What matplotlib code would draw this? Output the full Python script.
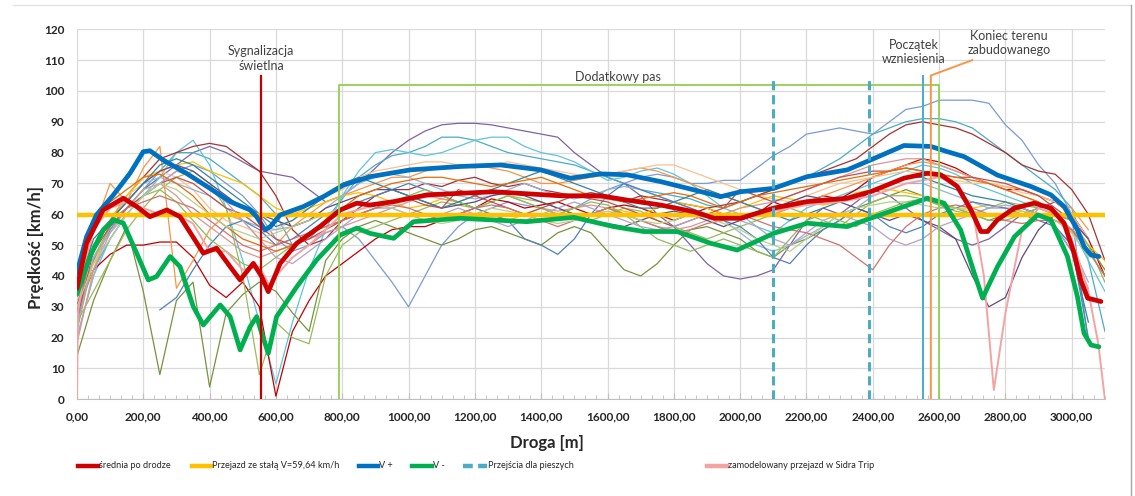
import numpy as np
import matplotlib
matplotlib.use('Agg')
import matplotlib.pyplot as plt
from matplotlib.lines import Line2D
from matplotlib.ticker import MultipleLocator, FuncFormatter

plt.rcParams['font.family'] = ['Lato', 'DejaVu Sans']
nan = np.nan

#%% single runs, sampled every 50 m (0 ... 3100 m)
dist = list(range(0, 3101, 50))

run01 = [25,45,55,62,68,72,76,80,82,80, 77,74,73,72,68,64,66,70,75,80, 84,87,89,89.5,89.5,89,88,87,86,85,
         80,76,72,70,66,60,56,50,44,40, 39,40,42,50,58,62,60,64,68,66, 62,58,55,52,50,52,56,60,62,64, 60,52,nan]
run02 = [28,42,52,60,66,70,74,76,74,70, 66,60,52,48,50,54,56,52,45,38, 30,40,50,56,60,62,64,63,62,60,
         62,65,68,70,72,73,72,70,70,71, 71,75,79,82,86,87,88,87,86,90, 94,95,97,97,97,96,89,84,76,70, 60,18,nan]
run03 = [30,45,55,62,68,74,80,80,78,74, 70,66,60,50,52,58,65,72,76,79, 80,82,85,85,84,82,80,79,78,77,
         76,74,72,70,68,67,66,65,63,62, 64,66,68,70,72,75,78,82,86,88, 90,91,91,90,88,84,80,76,72,68, 62,45,22]
run04 = [20,40,52,60,66,72,80,84,76,62, 45,25,5,25,42,55,66,74,80,81, 80,79,80,82,84,85,85,82,80,79,
         77,74,71,72,74,75,73,70,66,62, 60,56,54,58,62,64,66,68,70,72, 74,76,75,73,70,68,66,64,62,60, 55,45,35]
run05 = [35,48,58,66,72,78,80,82,83,82, 78,74,66,55,50,52,58,62,66,68, 68,70,69,71,72,70,69,70,68,67,
         66,67,66,64,66,65,64,63,62,63, 64,66,68,70,72,74,76,78,82,86, 89,90,89,88,86,83,80,76,74,73, 68,60,45]
run06 = [30,42,47,50,50,51,51,46,37,33, 38,30,1,22,32,40,44,48,52,55, 56,56,58,60,62,65,64,62,63,64,
         62,60,62,63,62,60,58,60,62,60, 58,60,64,62,64,66,65,68,72,74, 76,78,77,75,72,70,68,68,66,64, 60,52,40]
run07 = [14,32,45,56,35,8,32,38,4,28, 34,38,35,28,22,45,52,56,58,56, 54,52,50,52,55,56,54,52,50,54,
         56,54,48,42,40,44,50,55,56,54, 52,48,46,50,52,55,58,62,64,66, 68,66,64,62,60,58,60,62,60,58, 55,50,42]
run08 = [25,35,45,55,62,68,72,74,70,62, 40,8,25,20,18,40,50,54,56,58, 60,62,64,63,62,64,66,65,64,62,
         60,58,60,62,61,58,56,54,52,54, 56,58,60,62,60,58,56,60,64,66, 66,65,63,61,60,62,64,63,62,60, 55,48,40]
run09 = [28,55,70,64,75,82,36,45,55,60, 58,52,50,56,60,64,66,68,70,72, 72,74,75,76,76,75,74,72,70,70,
         71,72,73,74,75,74,72,70,68,66, 64,62,60,62,64,66,68,70,72,74, 76,77,76,74,72,70,69,68,66,64, 62,55,nan]
run10 = [32,44,56,66,70,74,72,68,62,58, 56,54,55,58,62,66,68,72,74,75, 76,77,77,76,75,76,77,76,75,74,
         73,72,73,74,75,76,76,74,72,70, 68,66,65,64,66,68,70,71,72,73, 74,73,72,71,70,70,69,67,66,64, 60,52,nan]
run11 = [30,42,58,66,72,74,76,77,74,72, 70,66,62,60,62,64,66,67,66,64, 62,63,65,64,62,60,58,60,62,60,
         58,60,62,61,60,62,64,63,62,60, 62,64,66,65,64,63,64,67,68,68, 67,66,64,62,62,63,62,61,60,58, 55,50,45]
run12 = [20,40,58,64,70,72,70,68,66,62, 58,56,55,56,58,62,66,70,72,73, 72,70,68,66,65,66,68,70,68,66,
         65,66,68,69,68,66,64,62,60,58, 54,50,48,50,53,56,60,62,66,68, 70,70,68,66,64,62,62,62,60,56, 50,38,nan]
run13 = [nan,nan,nan,nan,nan,29,33,42,50,56, 58,55,50,52,56,60,62,64,66,68, 70,68,66,64,62,60,58,52,50,47,
         52,60,66,70,68,66,64,62,60,58, 56,52,46,44,50,55,58,62,60,56, 54,56,60,62,64,63,62,60,58,56, 50,20,nan]
run14 = [18,42,54,62,68,70,66,60,56,52, 48,46,48,50,52,54,56,58,60,62, 64,66,65,64,66,68,66,64,62,61,
         62,63,62,60,58,56,55,56,58,60, 62,63,64,66,68,70,72,74,76,77, 78,78,76,74,72,70,68,66,64,60, 55,48,nan]
run15 = [30,50,58,64,70,74,76,74,70,66, 62,60,58,56,58,62,64,66,68,68, 66,64,62,63,64,66,67,66,64,62,
         60,58,57,56,58,60,61,60,58,56, 58,60,62,64,66,65,64,62,60,58, 60,58,56,52,40,30,33,46,55,60, 58,52,nan]
run16 = [22,46,56,62,66,68,64,58,52,48, 44,42,46,50,54,56,58,60,62,64, 66,68,66,64,62,64,66,64,62,60,
         62,64,63,60,56,52,50,48,50,52, 50,48,46,52,58,60,58,56,60,62, 64,65,63,62,60,58,58,60,62,60, 58,50,38]
run17 = [35,52,58,64,70,76,78,76,72,68, 64,60,56,58,62,66,70,72,70,68, 66,64,62,64,66,68,70,72,74,72,
         70,68,66,64,62,62,64,66,68,66, 64,62,60,58,60,62,64,66,68,70, 72,72,70,68,66,65,64,62,60,56, 48,25,nan]
run18 = [26,48,56,62,66,70,72,70,66,62, 60,56,52,50,52,55,58,60,62,64, 65,63,62,68,66,64,62,60,62,64,
         66,65,64,62,60,58,56,58,60,62, 68,66,64,66,68,70,72,73,74,74, 75,74,73,72,72,71,70,68,66,62, 58,48,nan]
run19 = [24,46,54,60,66,70,74,72,68,64, 58,52,46,44,48,52,56,60,62,62, 60,58,60,62,60,58,56,58,60,62,
         64,62,60,58,56,55,56,58,60,60, 58,56,52,50,54,58,60,58,56,52, 50,52,56,58,60,62,63,62,60,56, 48,36,nan]
run20 = [36,58,64,68,72,73,70,66,60,56, 52,50,48,50,54,58,62,66,68,70, 71,72,72,71,70,69,70,71,72,70,
         68,66,65,64,65,66,67,66,64,62, 64,66,67,68,69,70,71,72,73,74, 75,74,73,72,71,70,68,66,64,60, 54,nan,nan]
run21 = [28,50,58,62,64,66,64,62,58,54, 50,48,50,52,54,56,58,60,62,63, 62,60,58,60,62,63,62,60,58,56,
         58,60,62,60,58,56,54,55,57,58, 60,58,56,55,54,52,50,46,42,50, 56,60,62,63,62,60,58,57,58,58, 55,48,40]
run22 = [30,44,52,60,66,70,68,64,60,56, 54,52,54,56,58,60,62,64,63,62, 60,58,57,58,60,62,61,60,58,57,
         58,60,61,60,58,57,58,60,59,57, 55,52,50,48,52,56,60,62,63,64, 64,63,62,62,61,60,60,61,60,58, 54,46,nan]

runs = [run01, run02, run03, run04, run05, run06, run07, run08, run09, run10, run11,
        run12, run13, run14, run15, run16, run17, run18, run19, run20, run21, run22]
run_colors = ['#7F62A4', '#7A9BD2', '#4BACC6', '#5EC4DC', '#A5322F', '#C00000', '#77933C',
              '#9BBB59', '#F79646', '#FAC08F', '#FFC000', '#95B3D7', '#4F81BD', '#D99694',
              '#604A7B', '#8FBC5A', '#31859C', '#C0504D', '#B3A2C7', '#E46C0A', '#CD7371', '#B8CF8A']

#%% characteristic curves
mean_x = [0, 29, 79, 140, 180, 220, 271, 311, 381, 421, 462, 492, 532, 557, 577, 613, 663, 733, 794, 844,
          884, 955, 1056, 1257, 1458, 1579, 1659, 1760, 1861, 1922, 2001, 2101, 2202, 2323, 2393, 2494,
          2565, 2605, 2655, 2696, 2726, 2746, 2776, 2827, 2887, 2937, 2977, 3007, 3027, 3048, 3088]
mean_v = [36, 50.6, 61.4, 65.2, 62.5, 59.2, 61.4, 59.2, 47.4, 49, 43, 38.7, 44.1, 39.8, 34.9, 44.1, 50.6,
          56, 61.4, 63.6, 63, 64.1, 66.3, 67.3, 66, 66, 64.6, 63, 60.8, 58.7, 58.7, 62, 64.1, 65.2, 67.3,
          71.7, 73.3, 72.8, 69, 61.4, 54.4, 54.4, 58.2, 62, 63.6, 62, 57.1, 47.4, 38.7, 32.8, 31.7]

vplus_x = [0, 29, 59, 110, 160, 200, 220, 260, 330, 401, 462, 522, 542, 567, 583, 613, 683, 743, 804, 884,
           1005, 1156, 1277, 1398, 1488, 1579, 1659, 1760, 1861, 1941, 2001, 2101, 2202, 2323, 2393, 2494,
           2575, 2625, 2675, 2776, 2877, 2937, 2977, 3017, 3037, 3058, 3082]
vplus_v = [41, 52.7, 59.8, 66.3, 73.3, 80.3, 80.6, 77.6, 73.3, 68.4, 64.1, 61.4, 59.2, 54.9, 56, 59.8,
           62.5, 65.7, 69.5, 72.2, 74.4, 75.5, 76, 74.4, 71.7, 73.1, 72.8, 70.6, 67.9, 65.7, 67.3, 68.4,
           72.2, 74.4, 77.6, 82.3, 82, 80.3, 78.7, 72.7, 69, 66.3, 62.5, 55, 49.5, 46.8, 46.3]

vminus_x = [0, 39, 79, 110, 140, 180, 215, 240, 281, 311, 351, 381, 432, 462, 492, 522, 542, 557, 577, 602,
            663, 723, 794, 844, 884, 955, 1015, 1156, 1357, 1498, 1619, 1709, 1810, 1911, 1991, 2101, 2202,
            2323, 2393, 2494, 2565, 2615, 2665, 2706, 2731, 2776, 2827, 2897, 2937, 2987, 3017, 3037, 3058, 3082]
vminus_v = [34, 46.3, 54.9, 58.2, 57.1, 47.4, 38.7, 39.8, 46.3, 43, 30, 24.1, 30.6, 26.8, 16, 23.5, 26.8,
            21.4, 14.9, 26.8, 36.5, 45.2, 53.3, 55.5, 53.8, 52.2, 57.6, 58.7, 57.6, 59, 56, 54.4, 54.4, 50.6,
            48.4, 53.8, 57.1, 56, 58.7, 62.5, 65.2, 63.6, 54.9, 40.9, 32.8, 43, 52.7, 59.8, 58.2, 46.3, 33.3,
            21.4, 17.6, 17]

sidra_x = [0, 3, 25, 50, 100, 150, 200, 250, 300, 350, 400, 450, 500, 550, 580, 600, 650, 700, 750, 800,
           900, 1000, 1100, 1200, 1300, 1400, 1500, 1600, 1700, 1800, 1900, 2000, 2100, 2200, 2300, 2400,
           2500, 2600, 2650, 2700, 2735, 2765, 2800, 2850, 2900, 2950, 3000, 3050, 3080, 3100]
sidra_v = [0, 28, 45, 55, 62, 64, 62, 60, 60, 57, 48, 48, 42, 43, 37, 40, 46, 50, 55, 60,
           63, 65, 66, 67, 67, 66, 66, 65, 64, 62, 60, 59, 61, 63, 64, 66, 70, 72, 70, 62,
           40, 3, 28, 55, 62, 60, 52, 35, 18, 0]

v_const = 59.64
road_end = 3100

#%% road features [m]
signal_x = 555
lane_start, lane_end, lane_top = 790, 2600, 102
crossings = [2100, 2390]
uphill_x = 2550
urban_end_x = 2575
marker_top = 105

#%% plot
fig = plt.figure(figsize=(11.35, 4.96), dpi=100)
ax = fig.add_axes([0.0678, 0.195, 0.9057, 0.746])

for r, c in zip(runs, run_colors):
    ax.plot(dist, r, '-', color=c, lw=0.9, zorder=2)

ax.plot(sidra_x, sidra_v, '-', color='#F4A3A3', lw=1.4, zorder=3)
ax.plot([0, road_end], [v_const, v_const], '-', color='#FFC000', lw=3.2, zorder=4)
ax.plot(vminus_x, vminus_v, '-', color='#00B050', lw=3.4, zorder=5, solid_capstyle='round')
ax.plot(vplus_x, vplus_v, '-', color='#0070C0', lw=3.4, zorder=5, solid_capstyle='round')
ax.plot(mean_x, mean_v, '-', color='#D00000', lw=3.4, zorder=6, solid_capstyle='round')

# markers along the road
ax.plot([signal_x, signal_x], [0, marker_top], '-', color='#C00000', lw=1.6, zorder=7)
ax.plot([lane_start, lane_start, lane_end, lane_end], [0, lane_top, lane_top, 0], '-', color='#92D050', lw=1.3, zorder=7)
for cx in crossings:
    ax.plot([cx, cx], [0, marker_top], '--', color='#4BACC6', lw=2.2, dashes=(3, 1.6), zorder=7)
ax.plot([uphill_x, uphill_x], [0, marker_top], '-', color='#4BACC6', lw=1.4, zorder=7)
ax.plot([urban_end_x, urban_end_x, 2700], [0, marker_top, 110], '-', color='#F79646', lw=1.4, zorder=7)

tcol = '#404040'
ax.text(signal_x, 110.5, 'Sygnalizacja\nświetlna', ha='center', va='center', fontsize=9, color=tcol, linespacing=1.25)
ax.text(1630, 104.5, 'Dodatkowy pas', ha='center', va='center', fontsize=9, color=tcol)
ax.text(2523, 112.6, 'Początek\nwzniesienia', ha='center', va='center', fontsize=9, color=tcol, linespacing=1.25)
ax.text(2810, 115.6, 'Koniec terenu\nzabudowanego', ha='center', va='center', fontsize=9, color=tcol, linespacing=1.25)

ax.set_xlim(0, road_end)
ax.set_ylim(0, 120)
ax.xaxis.set_major_locator(MultipleLocator(200))
ax.xaxis.set_minor_locator(MultipleLocator(200 / 6))
ax.yaxis.set_major_locator(MultipleLocator(10))
ax.xaxis.set_major_formatter(FuncFormatter(lambda v, p: f'{v:.2f}'.replace('.', ',')))
ax.grid(True, which='major', color='#D9D9D9', lw=0.9, zorder=0)
ax.set_axisbelow(True)
for s in ['top', 'right', 'left']:
    ax.spines[s].set_visible(False)
ax.spines['bottom'].set_color('#BFBFBF')
ax.tick_params(axis='x', which='major', direction='in', length=4, color='#BFBFBF', pad=9,
               labelsize=8.5, labelcolor='#262626')
ax.tick_params(axis='x', which='minor', direction='in', length=3, color='#BFBFBF')
ax.tick_params(axis='y', length=0, pad=9, labelsize=8.5, labelcolor='#262626')
for lab in ax.get_xticklabels() + ax.get_yticklabels():
    lab.set_fontweight('bold')

ax.set_xlabel('Droga [m]', fontsize=12, fontweight='bold', color='#262626')
ax.set_ylabel('Prędkość [km/h]', fontsize=12, fontweight='bold', color='#262626')
ax.xaxis.set_label_coords(0.457, -0.097)
ax.yaxis.set_label_coords(-0.032, 0.41)

# legend row
W, H = 1135.0, 496.0
leg_y = 1 - 466 / H
legend_items = [('średnia po drodze', '#D00000', '-', 78, 98),
                ('Przejazd ze stałą V=59,64 km/h', '#FFC000', '-', 192, 211),
                ('V +', '#0070C0', '-', 359, 378),
                ('V -', '#00B050', '-', 412, 432),
                ('Przejścia dla pieszych', '#4BACC6', '--', 463, 487),
                ('zamodelowany przejazd w Sidra Trip', '#F4A3A3', '-', 707, 727)]
for label, col, ls, x0, x1 in legend_items:
    ln = Line2D([x0 / W, x1 / W], [leg_y, leg_y], transform=fig.transFigure, color=col, lw=3.2,
                linestyle=ls)
    if ls == '--':
        ln.set_dashes((2.2, 1.2))
    fig.add_artist(ln)
    fig.text((x1 + 1) / W, leg_y, label, ha='left', va='center', fontsize=6.6, color='#262626')

# chart-area border (cropped screenshot)
fig.add_artist(Line2D([13 / W, 1131 / W], [1 - 5 / H, 1 - 5 / H], transform=fig.transFigure, color='#E3E3E3', lw=1))
fig.add_artist(Line2D([1131 / W, 1131 / W], [1 - 5 / H, 0], transform=fig.transFigure, color='#A6A6A6', lw=1))

fig.savefig('out.png', dpi=100)
